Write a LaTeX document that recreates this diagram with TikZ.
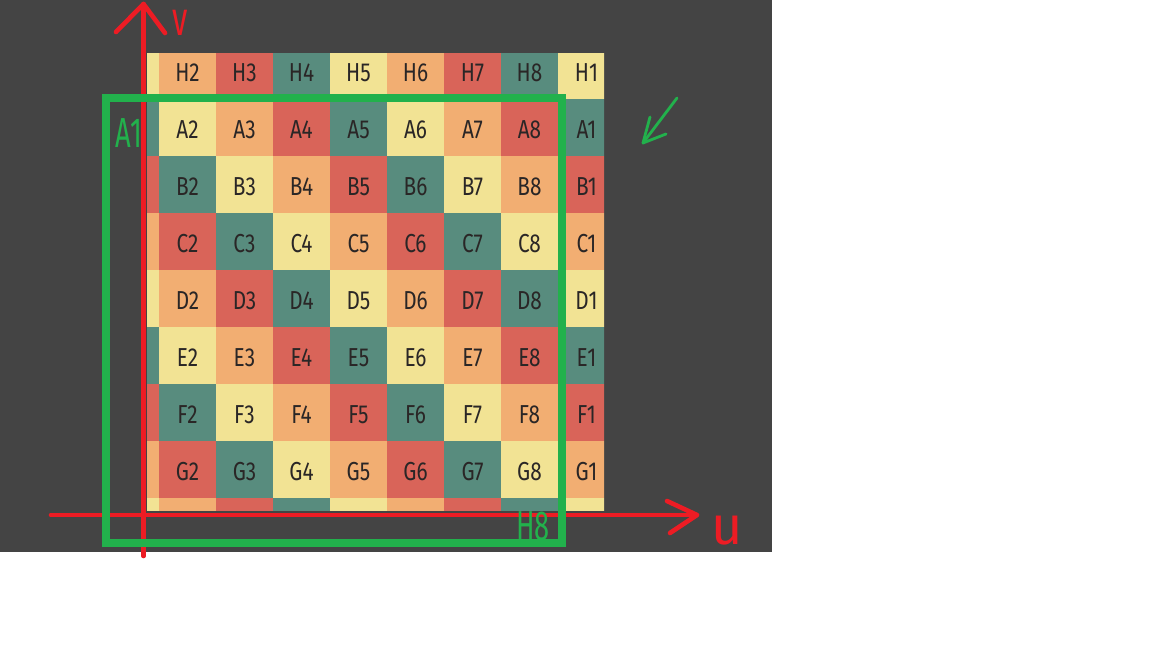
\documentclass[tikz,border=0pt]{standalone}
\usepackage{fontspec}
\setmainfont{Fira Sans}
\newfontfamily\cellfont[FakeStretch=0.8]{Fira Sans}
\newfontfamily\handfont[FakeStretch=0.65]{Fira Sans}
\definecolor{bgdark}{HTML}{444444}
\definecolor{pal0}{HTML}{588C7E}
\definecolor{pal1}{HTML}{F2E394}
\definecolor{pal2}{HTML}{F2AE72}
\definecolor{pal3}{HTML}{D96459}
\definecolor{celltxt}{HTML}{2A2626}
\definecolor{penred}{HTML}{ED1C24}
\definecolor{pengreen}{HTML}{22B14C}
\tikzset{
  celltext/.style={text=celltxt,font=\cellfont\fontsize{13}{13}\selectfont,inner sep=0pt},
  redpen/.style={draw=penred,line width=2.3pt,line cap=round,line join=round},
  greenpen/.style={draw=pengreen,line width=3.75pt},
  greenthin/.style={draw=pengreen,line width=1.4pt,line cap=round,line join=round},
  redlabel/.style={text=penred,inner sep=0pt},
  greenlabel/.style={text=pengreen,inner sep=0pt,font=\handfont\fontsize{21}{21}\selectfont}
}
\begin{document}
\begin{tikzpicture}[x=0.5pt,y=-0.5pt]
\useasboundingbox[fill=white] (0,0) rectangle (1152,648);
\fill[bgdark] (0,0) rectangle (772,552);
% grid of cells
\begin{scope}
\clip (147,53) rectangle (604,510);
\foreach \m/\L/\r in {0/H/7,1/A/0,2/B/1,3/C/2,4/D/3,5/E/4,6/F/5,7/G/6,8/H/7}{
  \foreach \k/\j in {0/1,1/2,2/3,3/4,4/5,5/6,6/7,7/8,8/1}{
    \pgfmathtruncatemacro\ci{mod(\j-1-\r+8,4)}
    \fill[pal\ci] (102+57*\k,42+57*\m) rectangle ++(57,57);
    \ifnum\k>0 \ifnum\m<8
      \node[celltext] (c-\m-\k) at (130.5+57*\k,72.5+57*\m) {\L\j};
    \fi\fi
  }
}
\end{scope}
% red axes
\coordinate (vtop) at (143.5,4);
\coordinate (vbot) at (143.5,556);
\coordinate (vl) at (116,32);
\coordinate (vr) at (165,33);
\draw[redpen] (vbot) -- (vtop);
\draw[redpen] (vl) -- (vtop) -- (vr);
\coordinate (uleft) at (51,515);
\coordinate (utip) at (697,515);
\coordinate (ua) at (667,501);
\coordinate (ub) at (670,533);
\draw[redpen] (uleft) -- (utip);
\draw[redpen] (ua) -- (utip) -- (ub);
\node[redlabel,font=\handfont\fontsize{24}{24}\selectfont] (vlab) at (180,23) {v};
\node[redlabel,font=\fontsize{27}{27}\selectfont] (ulab) at (727,531) {u};
% green frame
\draw[greenpen] (106,98) rectangle (562,543);
\node[greenlabel] (a1) at (129,133) {A1};
\node[greenlabel] (h8) at (533,526) {H8};
% green arrow
\coordinate (gstart) at (677,98);
\coordinate (gtip) at (643,143);
\coordinate (ga) at (650,117);
\coordinate (gb) at (666,134);
\draw[greenthin] (gstart) -- (gtip);
\draw[greenthin] (ga) -- (gtip) -- (gb);
\end{tikzpicture}
\end{document}
